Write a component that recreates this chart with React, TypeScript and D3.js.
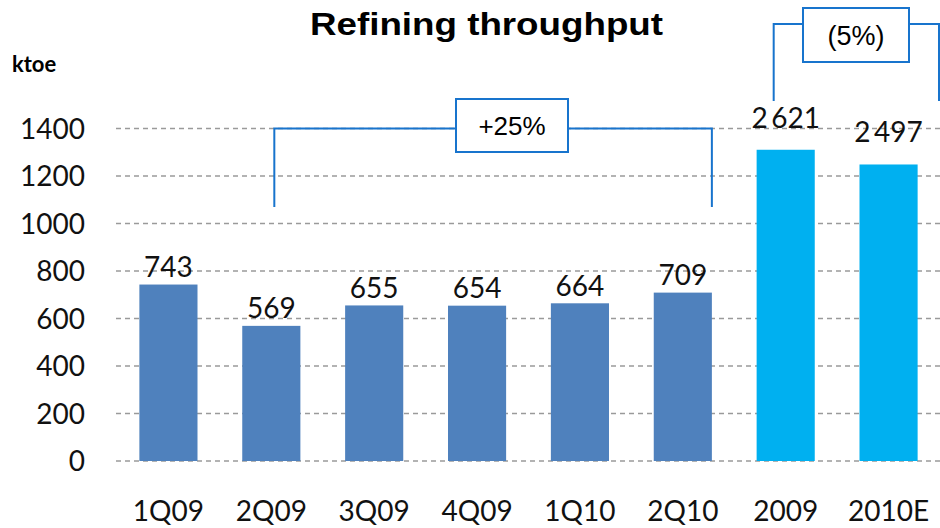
import React from "react";
import * as d3 from "d3";

const categories = ["1Q09", "2Q09", "3Q09", "4Q09", "1Q10", "2Q10", "2009", "2010E"];
const quarterlyValues = [743, 569, 655, 654, 664, 709];
const annualValues = [2621, 2497];
const yTicks = [0, 200, 400, 600, 800, 1000, 1200, 1400];
const title = "Refining throughput";
const unitLabel = "ktoe";
const changeLabels = ["+25%", "(5%)"];

const W = 940;
const H = 528;
const QCOLOR = "#4F81BD";
const ACOLOR = "#00B0F0";
const BRACKET = "#1874CD";
const AXISFONT = "Lato, 'Open Sans', sans-serif";
const ARIAL = "'Liberation Sans', Arial, sans-serif";

export default function App() {
  const x = d3.scaleBand<string>().domain(categories).range([117, 940]).paddingInner(0.435).paddingOuter(0.2175);
  const y = d3.scaleLinear().domain([0, 1400]).range([461, 128.5]);

  const bars = [
    ...quarterlyValues.map((v, i) => ({ cat: categories[i], h: v, label: String(v), annual: false })),
    ...annualValues.map((v, i) => ({
      cat: categories[6 + i],
      h: v / 2,
      label: d3.format(",")(v).replace(",", "\u2009"),
      annual: true,
    })),
  ];

  const bw = x.bandwidth();
  const cx = (c: string) => (x(c) as number) + bw / 2;

  // bracket 1 (+25%)
  const b1L = cx("2Q09") + 3;
  const b1R = (x("2Q10") as number) + bw;
  const b1Y = y(1400);
  const b1Bot = y(1070);
  const box1 = { x: 456, y: 99, w: 112, h: 53 };
  // bracket 2 (5%)
  const b2L = cx("2009") - 12;
  const b2R = 939;
  const b2Y = 24;
  const b2Bot = 101;
  const box2 = { x: 803, y: 8, w: 106, h: 54 };

  return (
    <svg width={W} height={H} style={{ position: "absolute", left: 0, top: 0, background: "#fff" }}>
      <text
        x={310}
        y={35}
        fontFamily={ARIAL}
        fontWeight="bold"
        fontSize={32}
        textLength={353}
        lengthAdjust="spacingAndGlyphs"
        fill="#000"
      >
        {title}
      </text>
      <text x={12} y={72} fontFamily={AXISFONT} fontWeight="bold" fontSize={22} fill="#000">
        {unitLabel}
      </text>
      {yTicks.map((t) => (
        <g key={t}>
          <line x1={116} x2={940} y1={y(t)} y2={y(t)} stroke="#9a9a9a" strokeWidth={1.3} strokeDasharray="5,4" />
          <text x={85} y={y(t)} dy="0.36em" textAnchor="end" fontFamily={AXISFONT} fontSize={28} fill="#111">
            {t}
          </text>
        </g>
      ))}
      {bars.map((b) => (
        <g key={b.cat}>
          <rect x={x(b.cat)} y={y(b.h)} width={bw} height={y(0) - y(b.h)} fill={b.annual ? ACOLOR : QCOLOR} />
          <text
            x={cx(b.cat)}
            y={y(b.h) - (b.annual ? 22 : 7.5)}
            textAnchor="middle"
            fontFamily={AXISFONT}
            fontSize={28}
            fill="#111"
          >
            {b.label}
          </text>
          <text x={cx(b.cat)} y={521} textAnchor="middle" fontFamily={AXISFONT} fontSize={28} fill="#111">
            {b.cat}
          </text>
        </g>
      ))}
      <g fill="none" stroke={BRACKET} strokeWidth={2}>
        <polyline points={`${b1L},${b1Bot} ${b1L},${b1Y} ${box1.x},${b1Y}`} />
        <polyline points={`${box1.x + box1.w},${b1Y} ${b1R},${b1Y} ${b1R},${b1Bot}`} />
        <rect x={box1.x} y={box1.y} width={box1.w} height={box1.h} fill="#fff" />
        <polyline points={`${b2L},${b2Bot} ${b2L},${b2Y} ${box2.x},${b2Y}`} />
        <polyline points={`${box2.x + box2.w},${b2Y} ${b2R},${b2Y} ${b2R},${b2Bot}`} />
        <rect x={box2.x} y={box2.y} width={box2.w} height={box2.h} fill="#fff" />
      </g>
      <text x={box1.x + box1.w / 2} y={box1.y + box1.h / 2} dy="0.36em" textAnchor="middle" fontFamily={ARIAL} fontSize={26} fill="#000">
        {changeLabels[0]}
      </text>
      <text x={box2.x + box2.w / 2} y={box2.y + box2.h / 2} dy="0.36em" textAnchor="middle" fontFamily={ARIAL} fontSize={27} fill="#000">
        {changeLabels[1]}
      </text>
    </svg>
  );
}
